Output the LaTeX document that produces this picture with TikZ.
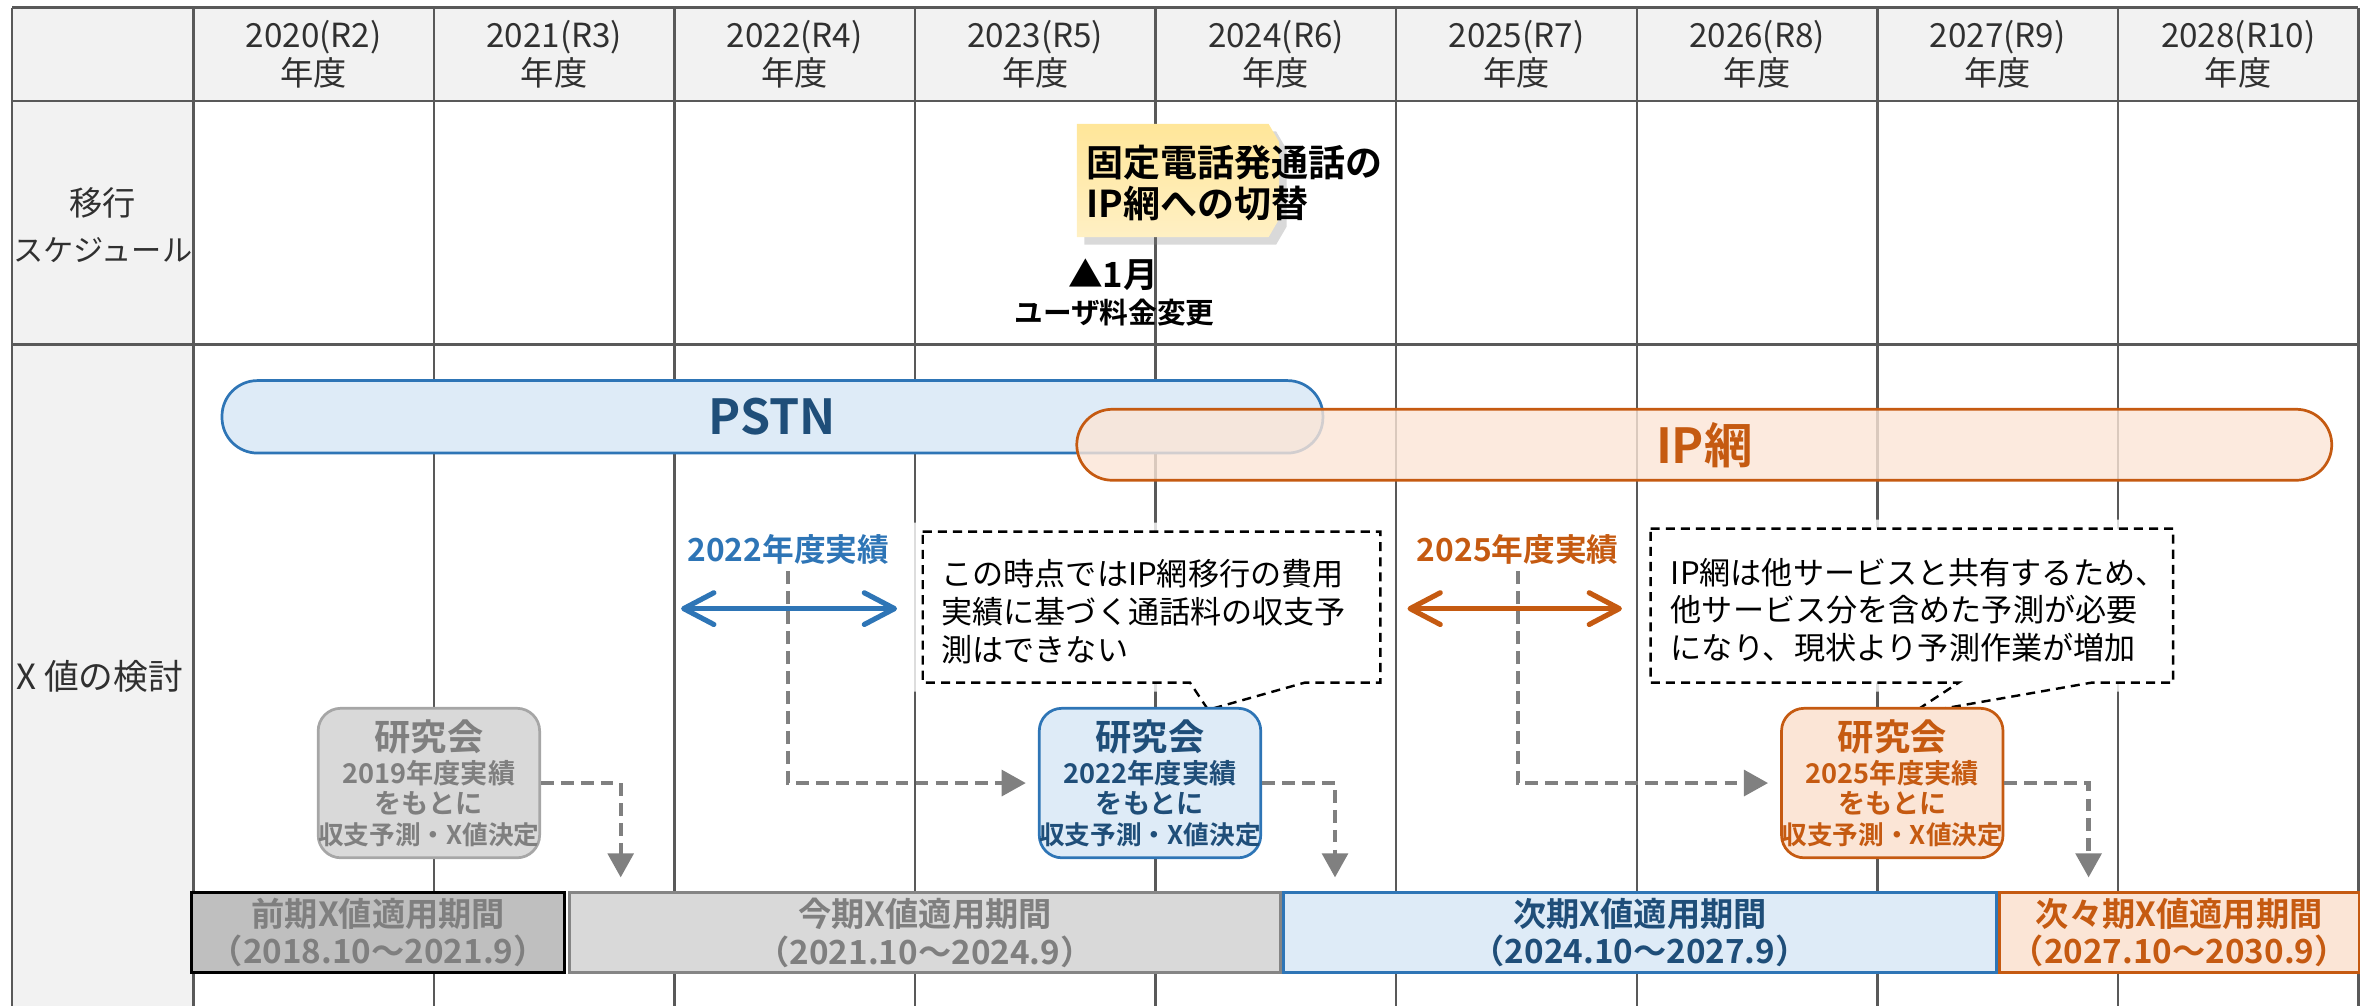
\documentclass[tikz,border=0pt]{standalone}
\usepackage{fontspec}
\setmainfont{Noto Sans CJK JP}[BoldFont={Noto Sans CJK JP Bold}]
\usepackage{tikz}
\usetikzlibrary{arrows.meta}
\usetikzlibrary{shadows}
\definecolor{gridcol}{HTML}{595959}
\definecolor{hdfill}{HTML}{F2F2F2}
\definecolor{hdtxt}{HTML}{303030}
\definecolor{blueline}{HTML}{2E75B6}
\definecolor{bluefill}{HTML}{DEEBF7}
\definecolor{bluetxt}{HTML}{1F4E79}
\definecolor{orline}{HTML}{C55A11}
\definecolor{orfill}{HTML}{FBE5D6}
\definecolor{greybd}{HTML}{A6A6A6}
\definecolor{greyfill}{HTML}{D9D9D9}
\definecolor{greytxt}{HTML}{7F7F7F}
\definecolor{zenfill}{HTML}{BFBFBF}
\definecolor{arrgrey}{HTML}{808080}
\definecolor{switchtop}{HTML}{FFE699}
\definecolor{switchbot}{HTML}{FFF0C4}
\tikzset{
  gridline/.style={draw=gridcol, line width=0.8pt},
  hdtext/.style={text=hdtxt, align=center, inner sep=0pt,
    font=\fontsize{11}{11}\selectfont},
  rowtext/.style={text=hdtxt, align=center, inner sep=0pt,
    font=\fontsize{10}{15.5}\selectfont},
  capsule/.style={rounded corners=11.75pt, minimum height=23.5pt, inner sep=0pt,
    line width=0.9pt, font=\bfseries\fontsize{16}{16}\selectfont},
  actual/.style={inner sep=2pt, font=\bfseries\fontsize{10.5}{12}\selectfont},
  dblarrow/.style={line width=1.7pt,
    {Straight Barb[length=10pt,width=10.5pt,round]}-{Straight Barb[length=10pt,width=10.5pt,round]}},
  note/.style={draw=black, fill=white, line width=0.8pt, dash pattern=on 3pt off 2pt,
    preaction={draw=white, solid, line width=6pt, opacity=0.8}},
  notetext/.style={align=left, inner sep=0pt, text=black,
    font=\fontsize{10.3}{12.5}\selectfont},
  meeting/.style={rounded corners=7.5pt, minimum width=72.5pt, minimum height=49.5pt,
    inner sep=0pt, line width=0.9pt, align=center,
    font=\bfseries\fontsize{9}{10}\selectfont},
  grarrow/.style={draw=arrgrey, line width=1.4pt, dash pattern=on 4.2pt off 2.4pt,
    -{Triangle[length=8pt,width=8.5pt]}},
  period/.style={minimum height=26.5pt, inner sep=0pt, line width=0.9pt, align=center,
    font=\bfseries\fontsize{11}{12.5}\selectfont}
}
\begin{document}
\begin{tikzpicture}[x=0.5pt,y=-0.5pt]
\useasboundingbox (0,0) rectangle (1570,666);
% table
\fill[hdfill] (8,5) rectangle (1562,67);
\fill[hdfill] (8,67) rectangle (128,666);
\foreach \i in {0,...,9}
  \draw[gridline] ({128+159.3*\i},5) -- ({128+159.3*\i},666);
\draw[gridline] (8,5) -- (8,666);
\foreach \y in {5,67,228}
  \draw[gridline] (8,\y) -- (1561.7,\y);
\foreach \yr/\rw [count=\i from 0] in {2020/R2,2021/R3,2022/R4,2023/R5,2024/R6,2025/R7,2026/R8,2027/R9,2028/R10}
  \node[hdtext] (yr\i) at ({207.65+159.3*\i},36) {\yr(\rw)\\年度};
\node[rowtext] (sched) at (68,149) {{\fontsize{11}{15.5}\selectfont 移行}\\スケジュール};
\node[rowtext, font=\fontsize{11.5}{13}\selectfont] (xval) at (66,448) {X 値の検討};

% migration schedule
\path[top color=switchtop, bottom color=switchbot,
  drop shadow={shadow xshift=2.5pt, shadow yshift=-2.5pt, opacity=0.3}]
  (713,82) -- (840,82) -- (847,94) -- (847,145) -- (840,157) -- (713,157) -- cycle;
\node[align=left, anchor=west, inner sep=0pt, font=\bfseries\fontsize{12.25}{13.5}\selectfont]
  (switch) at (719,121) {固定電話発通話の\\IP網への切替};
\node[inner sep=0pt, font=\bfseries\fontsize{11.5}{12}\selectfont] (jan) at (737,182) {▲1月};
\node[inner sep=0pt, font=\bfseries\fontsize{9.5}{10}\selectfont] (fee) at (738,207) {ユーザ料金変更};

% networks
\node[capsule, draw=blueline, fill=bluefill, text=bluetxt, minimum width=364.5pt,
  minimum height=24pt] (pstn) at (511.5,276) {PSTN};
\node[capsule, draw=orline, fill=orfill, fill opacity=0.8, text opacity=1, text=orline,
  minimum width=415.5pt] (ipnet) at (1128.5,294.5) {IP網};

% actual results
\node[actual, text=blueline] (actB) at (522,364) {2022年度実績};
\node[actual, text=orline] (actC) at (1005,364) {2025年度実績};
\coordinate (bl) at (451,403);
\coordinate (br) at (594,403);
\coordinate (cl) at (932,403);
\coordinate (cr) at (1074,403);
\draw[dblarrow, draw=blueline] (bl) -- (br);
\draw[dblarrow, draw=orline] (cl) -- (cr);

% notes
\draw[note] (611,352) -- (914,352) -- (914,452) -- (864,452) -- (800,470) -- (788,452)
  -- (611,452) -- cycle;
\node[notetext, anchor=west] (noteB) at (623,405)
  {この時点ではIP網移行の費用\\実績に基づく通話料の収支予\\測はできない};
\draw[note] (1093,350) -- (1439,350) -- (1439,452) -- (1385,452) -- (1265,473) -- (1297,452)
  -- (1093,452) -- cycle;
\node[notetext, anchor=west] (noteC) at (1106,404)
  {IP網は他サービスと共有するため、\\他サービス分を含めた予測が必要\\になり、現状より予測作業が増加};

% study meetings
\node[meeting, draw=greybd, fill=greyfill, text=greytxt] (kenA) at (284,518.5)
  {{\fontsize{12}{14}\selectfont 研究会}\\[1pt]2019年度実績\\をもとに\\{\fontsize{8.5}{10}\selectfont 収支予測・X値決定}};
\node[meeting, draw=blueline, fill=bluefill, text=bluetxt] (kenB) at (761.5,518.5)
  {{\fontsize{12}{14}\selectfont 研究会}\\[1pt]2022年度実績\\をもとに\\{\fontsize{8.5}{10}\selectfont 収支予測・X値決定}};
\node[meeting, draw=orline, fill=orfill, text=orline] (kenC) at (1253,518.5)
  {{\fontsize{12}{14}\selectfont 研究会}\\[1pt]2025年度実績\\をもとに\\{\fontsize{8.5}{10}\selectfont 収支予測・X値決定}};

% connectors
\coordinate (tipA) at (411,581);
\coordinate (tipB) at (884,581);
\coordinate (tipC) at (1383,581);
\draw[grarrow] (kenA.east) -| (tipA);
\draw[grarrow, shorten >=4pt] (actB.south) |- (kenB.west);
\draw[grarrow] (kenB.east) -| (tipB);
\draw[grarrow, shorten >=4pt] (actC.south) |- (kenC.west);
\draw[grarrow] (kenC.east) -| (tipC);

% application periods
\node[period, draw=black, fill=zenfill, text=greytxt, minimum width=123.5pt]
  (zenki) at (250.5,617.5) {前期X値適用期間\\（2018.10～2021.9）};
\node[period, draw=greybd!80!black, fill=greyfill, text=greytxt, minimum width=235.5pt]
  (konki) at (612.5,617.5) {今期X値適用期間\\（2021.10～2024.9）};
\node[period, draw=blueline, fill=bluefill, text=bluetxt, minimum width=236pt]
  (jiki) at (1086,617.5) {次期X値適用期間\\（2024.10～2027.9）};
\node[period, draw=orline, fill=orfill, text=orline, minimum width=119pt]
  (jijiki) at (1443,617.5) {次々期X値適用期間\\（2027.10～2030.9）};
\end{tikzpicture}
\end{document}
